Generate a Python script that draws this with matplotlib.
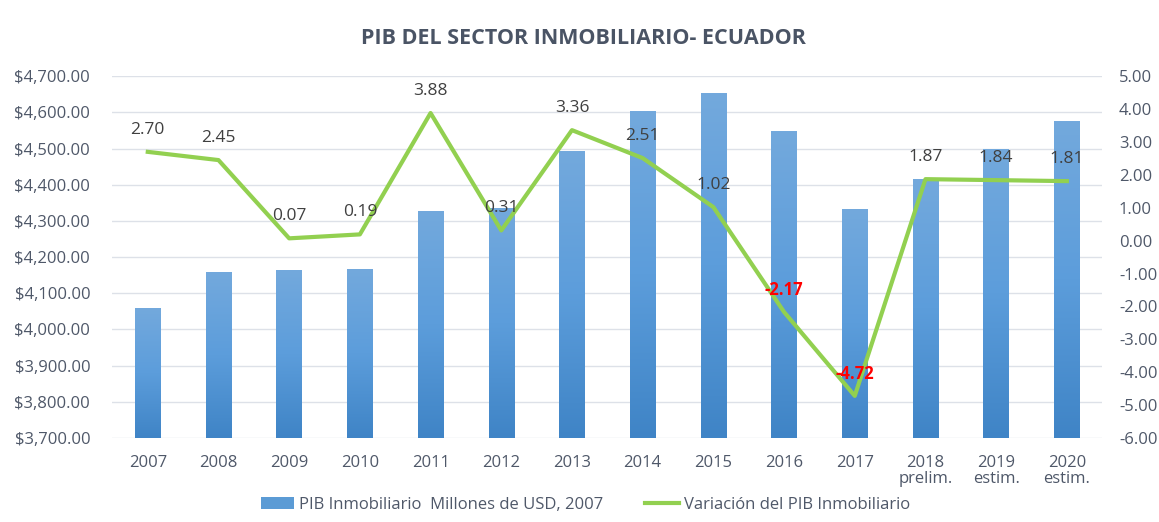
import numpy as np
import matplotlib.pyplot as plt
from matplotlib.colors import LinearSegmentedColormap
from matplotlib.ticker import FuncFormatter
from matplotlib.patches import Patch
from matplotlib.lines import Line2D

years = ["2007", "2008", "2009", "2010", "2011", "2012", "2013",
         "2014", "2015", "2016", "2017", "2018\nprelim.", "2019\nestim.", "2020\nestim."]
pib = [4058, 4158, 4162, 4167, 4327, 4335, 4491,
       4602, 4652, 4547, 4332, 4415, 4498, 4574]
variacion = [2.70, 2.45, 0.07, 0.19, 3.88, 0.31, 3.36,
             2.51, 1.02, -2.17, -4.72, 1.87, 1.84, 1.81]

plt.rcParams['font.family'] = ['Open Sans', 'DejaVu Sans']
grey = '#4f5869'

fig = plt.figure(figsize=(11.59, 5.22), dpi=100)
ax = fig.add_axes([0.097, 0.161, 0.854, 0.693])
ax2 = ax.twinx()

x = np.arange(len(years))
ymin, ymax = 3700, 4700
bars = ax.bar(x, pib, width=0.36, color='none', edgecolor='none', zorder=2)

# vertical gradient inside each bar (lighter on top)
cmap = LinearSegmentedColormap.from_list('b', ['#3f84c6', '#5c9ddb', '#73a9dd'])
grad = np.linspace(0, 1, 256).reshape(-1, 1)
for b in bars:
    x0 = b.get_x()
    x1 = x0 + b.get_width()
    top = b.get_height()
    ax.imshow(grad, extent=[x0, x1, ymin, top], origin='lower',
              aspect='auto', cmap=cmap, zorder=2)

ax.set_xlim(-0.5, len(years) - 0.5)
ax.set_ylim(ymin, ymax)
ax.set_yticks(np.arange(3700, 4701, 100))
ax.yaxis.set_major_formatter(FuncFormatter(lambda v, p: '${:,.2f}'.format(v)))
ax.grid(axis='y', color='#dde1e8', linewidth=1, zorder=0)
ax.set_axisbelow(True)
ax.set_xticks(x)
ax.set_xticklabels(years, linespacing=1.0)
ax.tick_params(axis='both', length=0, labelsize=12, colors=grey)
ax.tick_params(axis='y', pad=16)
ax.tick_params(axis='x', pad=12)
for sp in ax.spines.values():
    sp.set_visible(False)

ax2.plot(x, variacion, color='#92d050', linewidth=3, zorder=3)
ax2.set_ylim(-6, 5)
ax2.set_yticks(np.arange(-6, 5.1, 1))
ax2.yaxis.set_major_formatter(FuncFormatter(lambda v, p: '{:.2f}'.format(v)))
ax2.tick_params(axis='y', length=0, labelsize=12, colors=grey, pad=12)
for sp in ax2.spines.values():
    sp.set_visible(False)

for xi, v in zip(x, variacion):
    if v < 0:
        ax2.annotate('{:.2f}'.format(v), (xi, v), xytext=(0, 16),
                     textcoords='offset points', ha='center', va='center',
                     color='#ff0000', fontsize=12, fontweight='bold')
    else:
        ax2.annotate('{:.2f}'.format(v), (xi, v), xytext=(0, 16),
                     textcoords='offset points', ha='center', va='center',
                     color='#404040', fontsize=12.5)

fig.text(0.503, 0.927, 'PIB DEL SECTOR INMOBILIARIO- ECUADOR', ha='center',
         va='center', fontsize=15.5, fontweight='bold', color='#4a5465')

handles = [Patch(facecolor='#5b9bd5', edgecolor='none'),
           Line2D([0], [0], color='#92d050', linewidth=3)]
labels = ['PIB Inmobiliario  Millones de USD, 2007', 'Variación del PIB Inmobiliario']
fig.legend(handles, labels, loc='center', bbox_to_anchor=(0.505, 0.033), ncol=2,
           frameon=False, fontsize=12, labelcolor=grey, handlelength=2.0,
           handleheight=0.7, columnspacing=2.5, handletextpad=0.3)

fig.savefig('out.png', dpi=100)
